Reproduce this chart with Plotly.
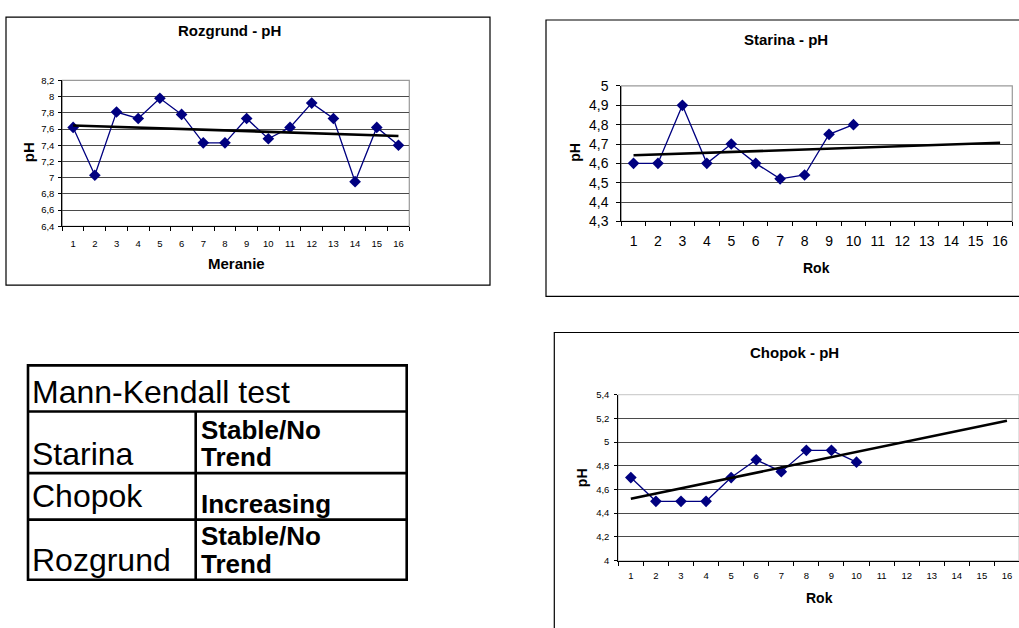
import numpy as np
import plotly.graph_objects as go

W, H = 1019, 628

# ---- data -------------------------------------------------------------
meranie = list(range(1, 17))
rozgrund_ph = [7.62, 7.03, 7.81, 7.73, 7.98, 7.78, 7.43, 7.43,
               7.73, 7.48, 7.62, 7.92, 7.73, 6.95, 7.62, 7.40]

rok = list(range(1, 17))
starina_ph = [4.60, 4.60, 4.90, 4.60, 4.70, 4.60, 4.52, 4.54, 4.75, 4.80]
chopok_ph = [4.70, 4.50, 4.50, 4.50, 4.70, 4.85, 4.75, 4.93, 4.93, 4.83]

mk_title = "Mann-Kendall test"
mk_sites = ["Starina", "Chopok", "Rozgrund"]
mk_results = [["Stable/No", "Trend"], ["Increasing"], ["Stable/No", "Trend"]]

FONT = "Arial, Liberation Sans, sans-serif"
NAVY = "#000080"


def px(x):
    return x / W


def py(y):
    return 1 - y / H


def trend(xs, ys, x_out):
    k, b = np.polyfit(xs, ys, 1)
    x_out = np.asarray(x_out, dtype=float)
    return x_out, k * x_out + b


fig = go.Figure()

# ---- chart panels -----------------------------------------------------
panels = [
    dict(name="Rozgrund - pH", xt="Meranie", x=meranie, y=rozgrund_ph,
         xdom=(62.3, 409.3), ydom=(74.3, 224.0), yr=(6.4, 8.2), dt=0.2,
         tickfont=9.5, xr=(0.5, 16.5), ystand=2, ytl=3, xstand=8,
         title_xy=(229.7, 23), xt_xy=(236.2, 262.3), yt_xy=(28, 148),
         tsize=15, asize=15, border="#9a9a9a"),
    dict(name="Starina - pH", xt="Rok", x=rok[:len(starina_ph)], y=starina_ph,
         xdom=(621.3, 1012.3), ydom=(80.0, 219.0), yr=(4.3, 5.0), dt=0.1,
         tickfont=14, xr=(0.5, 16.5), ystand=5, ytl=4, xstand=7,
         title_xy=(786, 32), xt_xy=(816.7, 267), yt_xy=(574.3, 148.3),
         tsize=15, asize=14, border="#9a9a9a"),
    dict(name="Chopok - pH", xt="Rok", x=rok[:len(chopok_ph)], y=chopok_ph,
         xdom=(618.3, 1019.0), ydom=(396.7, 567.0), yr=(4.0, 5.4), dt=0.2,
         tickfont=9.5, xr=(0.5, 16.48), ystand=3, ytl=3, xstand=6,
         title_xy=(794.7, 353), xt_xy=(819.7, 605), yt_xy=(582.7, 481.7),
         tsize=15, asize=14, border="#d0d0d0"),
]

annotations = []
shapes = []

for i, p in enumerate(panels, start=1):
    sfx = "" if i == 1 else str(i)
    xa, ya = "x" + sfx, "y" + sfx

    fig.add_trace(go.Scatter(
        x=p["x"], y=p["y"], mode="lines+markers", xaxis=xa, yaxis=ya,
        line=dict(color=NAVY, width=1.3),
        marker=dict(symbol="diamond", size=9, color=NAVY),
        showlegend=False, hoverinfo="skip"))

    tx, ty = trend(p["x"], p["y"], [1, 16])
    fig.add_trace(go.Scatter(
        x=tx, y=ty, mode="lines", xaxis=xa, yaxis=ya,
        line=dict(color="black", width=2.6),
        showlegend=False, hoverinfo="skip"))

    axis_font = dict(family=FONT, size=p["tickfont"], color="black")
    fig.layout["xaxis" + sfx] = dict(
        domain=[px(p["xdom"][0]), px(p["xdom"][1])],
        anchor=ya, range=list(p["xr"]),
        tickmode="array", tickvals=list(range(1, 17)),
        ticktext=[str(v) for v in range(1, 17)],
        ticks="", showgrid=False, zeroline=False,
        showline=True, linecolor="black", linewidth=1,
        tickfont=axis_font, ticklabelstandoff=p["xstand"],
        minor=dict(ticks="outside", tick0=0.5, dtick=1, ticklen=4,
                   tickcolor="black", tickwidth=1, showgrid=False),
        fixedrange=True)
    fig.layout["yaxis" + sfx] = dict(
        domain=[py(p["ydom"][1]), py(p["ydom"][0])],
        anchor=xa, range=list(p["yr"]), dtick=p["dt"], tick0=p["yr"][0],
        ticks="outside", ticklen=p["ytl"], tickcolor="black",
        showgrid=True, gridcolor="#4a4a4a", gridwidth=1, zeroline=False,
        showline=True, linecolor="black", linewidth=1,
        tickfont=axis_font, ticklabelstandoff=p["ystand"],
        fixedrange=True)

    # plot-area frame (top / right edges in grey)
    shapes.append(dict(type="rect", xref="paper", yref="paper", layer="below",
                       x0=px(p["xdom"][0]), x1=px(p["xdom"][1]),
                       y0=py(p["ydom"][1]), y1=py(p["ydom"][0]),
                       line=dict(color=p["border"], width=1.2)))

    annotations.append(dict(text="<b>%s</b>" % p["name"], xref="paper", yref="paper",
                            x=px(p["title_xy"][0]), y=py(p["title_xy"][1]),
                            xanchor="center", yanchor="middle", showarrow=False,
                            font=dict(family=FONT, size=p["tsize"], color="black")))
    annotations.append(dict(text="<b>%s</b>" % p["xt"], xref="paper", yref="paper",
                            x=px(p["xt_xy"][0]), y=py(p["xt_xy"][1]),
                            xanchor="center", yanchor="middle", showarrow=False,
                            font=dict(family=FONT, size=p["asize"], color="black")))
    annotations.append(dict(text="<b>pH</b>", xref="paper", yref="paper", textangle=-90,
                            x=px(p["yt_xy"][0]), y=py(p["yt_xy"][1]),
                            xanchor="center", yanchor="middle", showarrow=False,
                            font=dict(family=FONT, size=p["asize"], color="black")))

# outer chart frames
for (x0, y0, x1, y1) in [(6, 9.3, 490, 284.3), (546, 12.3, 1030, 296), (554.3, 333, 1030, 640)]:
    shapes.append(dict(type="rect", xref="paper", yref="paper", layer="below",
                       x0=px(x0), x1=px(x1), y0=py(y1), y1=py(y0),
                       line=dict(color="black", width=1.2)))

# ---- Mann-Kendall table -------------------------------------------------
T_LEFT, T_RIGHT, T_TOP, T_BOT = 28, 406.7, 366.7, 586.7
T_COL = 195.7
row_lines = [414.0, 477.3, 525.0]
row_bottoms = row_lines[1:] + [T_BOT]
BW = 2.6

shapes.append(dict(type="rect", xref="paper", yref="paper",
                   x0=px(T_LEFT), x1=px(T_RIGHT), y0=py(T_BOT), y1=py(T_TOP),
                   line=dict(color="black", width=BW)))
for yl in row_lines:
    shapes.append(dict(type="line", xref="paper", yref="paper",
                       x0=px(T_LEFT), x1=px(T_RIGHT), y0=py(yl), y1=py(yl),
                       line=dict(color="black", width=BW)))
shapes.append(dict(type="line", xref="paper", yref="paper",
                   x0=px(T_COL), x1=px(T_COL), y0=py(T_BOT), y1=py(row_lines[0]),
                   line=dict(color="black", width=BW)))

annotations.append(dict(text=mk_title, xref="paper", yref="paper",
                        x=px(30), y=py(394), xanchor="left", yanchor="middle",
                        showarrow=False, font=dict(family=FONT, size=32, color="black")))

site_offsets = [20, 24, 20]
for site, bottom, off in zip(mk_sites, row_bottoms, site_offsets):
    annotations.append(dict(text=site, xref="paper", yref="paper",
                            x=px(30), y=py(bottom - off), xanchor="left", yanchor="middle",
                            showarrow=False, font=dict(family=FONT, size=32, color="black")))

for lines, bottom in zip(mk_results, row_bottoms):
    n = len(lines)
    for j, txt in enumerate(lines):
        yc = bottom - 16.5 - 28 * (n - 1 - j)
        annotations.append(dict(text="<b>%s</b>" % txt, xref="paper", yref="paper",
                                x=px(199), y=py(yc), xanchor="left", yanchor="middle",
                                showarrow=False,
                                font=dict(family=FONT, size=26, color="black")))

fig.update_layout(
    width=W, height=H, autosize=False,
    margin=dict(l=0, r=0, t=0, b=0),
    paper_bgcolor="white", plot_bgcolor="white",
    shapes=shapes, annotations=annotations,
    separators=", ",
    showlegend=False,
)

fig.write_html("out.html", config=dict(displayModeBar=False))
